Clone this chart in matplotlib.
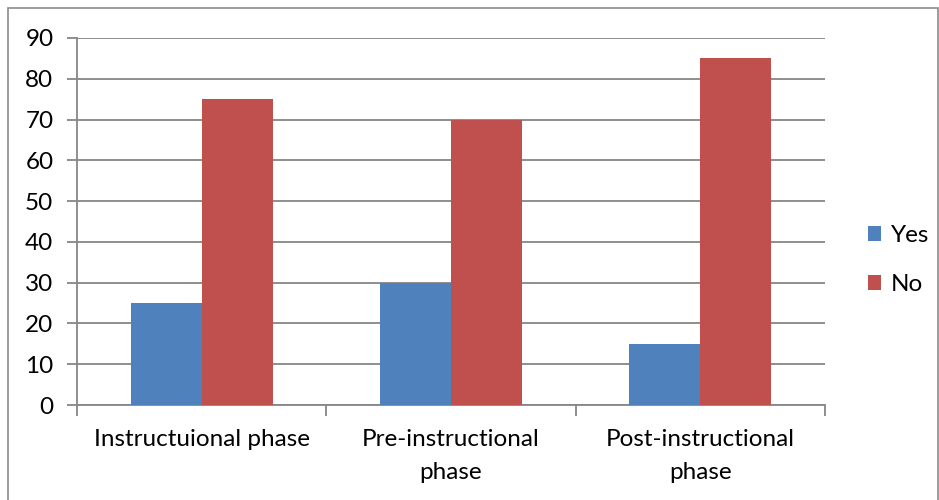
import matplotlib
matplotlib.use("Agg")
import matplotlib.pyplot as plt
from matplotlib.patches import Rectangle
import numpy as np

categories = ["Instructuional phase", "Pre-instructional\nphase", "Post-instructional\nphase"]
yes_vals = [25, 30, 15]
no_vals = [75, 70, 85]

plt.rcParams['font.family'] = ['Lato', 'DejaVu Sans']

fig = plt.figure(figsize=(9.39, 5.0), dpi=100)
ax = fig.add_axes([0.082, 0.19, 0.7966, 0.734])

# outer border of the chart area
fig.patches.append(Rectangle((8/939, -0.01), 938/939 - 8/939, 0.994, transform=fig.transFigure,
                             fill=False, edgecolor='#8c8c8c', linewidth=1.2))

x = np.arange(len(categories))
w = 0.285
ax.bar(x - w/2, yes_vals, w, color='#4F81BD', label='Yes', zorder=3)
ax.bar(x + w/2, no_vals, w, color='#C0504D', label='No', zorder=3)

ax.set_xlim(-0.5, 2.5)
ax.set_ylim(0, 90)
ax.set_yticks(range(0, 91, 10))
ax.yaxis.grid(True, color='#868686', linewidth=1.3, zorder=0)
# category boundary ticks
ax.set_xticks([-0.5, 0.5, 1.5, 2.5], minor=True)
ax.tick_params(axis='x', which='minor', length=8, width=1.3, color='#868686')
ax.set_xticks(x)
ax.set_xticklabels(categories, fontsize=17.5, linespacing=1.7)
ax.tick_params(axis='x', which='major', length=0, pad=17)
ax.tick_params(axis='y', length=7, width=1.3, color='#868686', labelsize=17.5, pad=10)

for s in ['top', 'right']:
    ax.spines[s].set_visible(False)
for s in ['left', 'bottom']:
    ax.spines[s].set_color('#868686')
    ax.spines[s].set_linewidth(1.3)

ax.legend(loc='center left', bbox_to_anchor=(1.028, 0.395), frameon=False, fontsize=17.5,
          handlelength=0.55, handleheight=0.55, handletextpad=0.4, labelspacing=1.15)

fig.savefig("out.png", dpi=100)
